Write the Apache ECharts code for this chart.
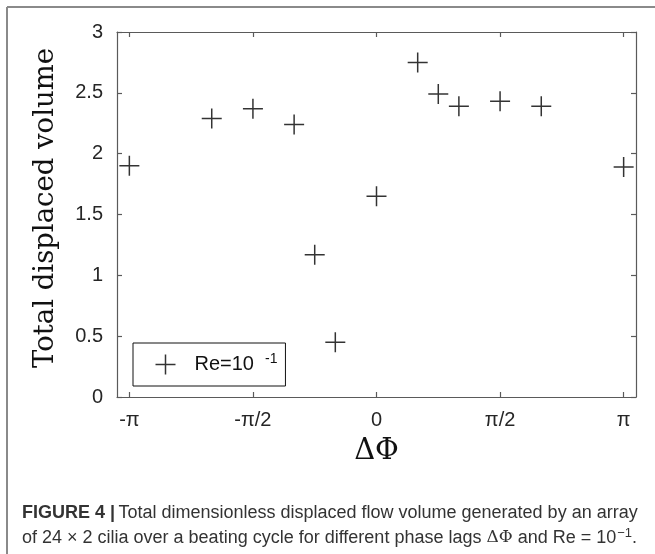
<!DOCTYPE html>
<html>
<head>
<meta charset="utf-8">
<script src="https://cdn.jsdelivr.net/npm/echarts@6/dist/echarts.min.js"></script>
<style>
html,body{margin:0;padding:0;background:#fff;}
#chart{width:655px;height:554px;}
</style>
</head>
<body>
<div id="chart"></div>
<script>
// Phase lag ΔΦ in units of π
const phaseLagOverPi = [-1, -2/3, -1/2, -1/3, -1/4, -1/6, 0, 1/6, 1/4, 1/3, 1/2, 2/3, 1];
// Total displaced volume
const displacedVolume = [1.90, 2.29, 2.37, 2.24, 1.17, 0.45, 1.65, 2.75, 2.49, 2.39, 2.43, 2.39, 1.89];
// x tick positions (units of π) and labels
const xTickValues = [-1, -0.5, 0, 0.5, 1];
const xTickLabels = ['-π', '-π/2', '0', 'π/2', 'π'];
const yTickLabels = ['0', '0.5', '1', '1.5', '2', '2.5', '3'];
const seriesName = 'Re=10^-1';

const points = phaseLagOverPi.map((x, i) => [x, displacedVolume[i]]);
const plusPath = 'path://M0,10L20,10M10,0L10,20';
const axisCol = '#5a5a5a';
const labelCol = '#262626';
const sans = '"Liberation Sans", Arial, sans-serif';

const chart = echarts.init(document.getElementById('chart'), null, {renderer: 'canvas'});
const xCommon = {
  type: 'value', min: -1.05, max: 1.05,
  splitLine: {show: false},
  axisLine: {show: true, onZero: false, lineStyle: {color: axisCol, width: 1.2}},
};
const yCommon = {
  type: 'value', min: 0, max: 3, interval: 0.5,
  splitLine: {show: false},
  axisLine: {show: true, onZero: false, lineStyle: {color: axisCol, width: 1.2}},
};
chart.setOption({
  animation: false,
  backgroundColor: '#fff',
  grid: {left: 117, top: 32, right: 19, bottom: 157},
  xAxis: [
    Object.assign({}, xCommon, {
      position: 'bottom',
      axisTick: {show: true, inside: true, length: 5, customValues: xTickValues, lineStyle: {color: axisCol, width: 1.2}},
      axisLabel: {show: true, margin: 13, customValues: xTickValues, color: labelCol, fontFamily: sans, fontSize: 20,
        formatter: v => xTickLabels[xTickValues.findIndex(t => Math.abs(t - v) < 1e-9)] || ''},
      name: 'ΔΦ', nameLocation: 'middle', nameGap: 40,
      nameTextStyle: {fontFamily: '"DejaVu Serif", serif', fontSize: 29, color: '#111'}
    }),
    Object.assign({}, xCommon, {
      position: 'top',
      axisTick: {show: true, inside: true, length: 5, customValues: xTickValues, lineStyle: {color: axisCol, width: 1.2}},
      axisLabel: {show: false}
    })
  ],
  yAxis: [
    Object.assign({}, yCommon, {
      position: 'left',
      axisTick: {show: true, inside: true, length: 5, lineStyle: {color: axisCol, width: 1.2}},
      axisLabel: {show: true, margin: 14, color: labelCol, fontFamily: sans, fontSize: 20,
        formatter: v => yTickLabels[Math.round(v * 2)]},
      name: 'Total displaced volume', nameLocation: 'middle', nameGap: 57, nameRotate: 90,
      nameTextStyle: {fontFamily: '"DejaVu Serif", serif', fontSize: 27.5, color: '#111', padding: [0, 0, 0, 13]}
    }),
    Object.assign({}, yCommon, {
      position: 'right',
      axisTick: {show: true, inside: true, length: 5, lineStyle: {color: axisCol, width: 1.2}},
      axisLabel: {show: false}
    })
  ],
  legend: {
    show: true,
    left: 133, top: 343,
    orient: 'vertical',
    padding: [9, 8, 9, 20],
    borderColor: '#111', borderWidth: 1,
    backgroundColor: '#fff',
    icon: plusPath,
    itemWidth: 20, itemHeight: 20,
    itemGap: 0,
    itemStyle: {color: 'none', borderColor: '#000', borderWidth: 1.5},
    formatter: () => '{a|Re=10}{b|-1}',
    textStyle: {
      color: '#111',
      rich: {
        a: {fontFamily: sans, fontSize: 20, color: '#111', padding: [0, 0, 0, 14], lineHeight: 20},
        b: {fontFamily: sans, fontSize: 14, color: '#111', padding: [0, 0, 10, 11], lineHeight: 20}
      }
    },
    data: [seriesName]
  },
  series: [{
    name: seriesName,
    type: 'scatter',
    xAxisIndex: 0, yAxisIndex: 0,
    data: points,
    symbol: plusPath,
    symbolSize: 20,
    itemStyle: {color: 'none', borderColor: '#000', borderWidth: 1.5},
    emphasis: {disabled: true}
  }],
  graphic: [
    {type: 'line', shape: {x1: 7, y1: 7, x2: 655, y2: 7}, style: {stroke: '#8a8a8a', lineWidth: 2}, silent: true},
    {type: 'line', shape: {x1: 7, y1: 7, x2: 7, y2: 554}, style: {stroke: '#8a8a8a', lineWidth: 2}, silent: true},
    {type: 'text', left: 22, top: 504, silent: true,
      style: {
        text: '{b|FIGURE 4 |} {r|Total dimensionless displaced flow volume generated by an array}',
        rich: {
          b: {fontFamily: sans, fontSize: 18, fontWeight: 'bold', fill: '#333'},
          r: {fontFamily: sans, fontSize: 18, fill: '#333'}
        }
      }},
    {type: 'text', left: 22, top: 527, silent: true,
      style: {
        text: '{r|of 24 × 2 cilia over a beating cycle for different phase lags }{s|ΔΦ}{r| and Re = 10}{p|−1}{r|.}',
        rich: {
          r: {fontFamily: sans, fontSize: 18, fill: '#333'},
          s: {fontFamily: '"DejaVu Serif", serif', fontSize: 17, fill: '#333'},
          p: {fontFamily: sans, fontSize: 13, fill: '#333', padding: [0, 0, 9, 1]}
        }
      }}
  ]
});
</script>
</body>
</html>
